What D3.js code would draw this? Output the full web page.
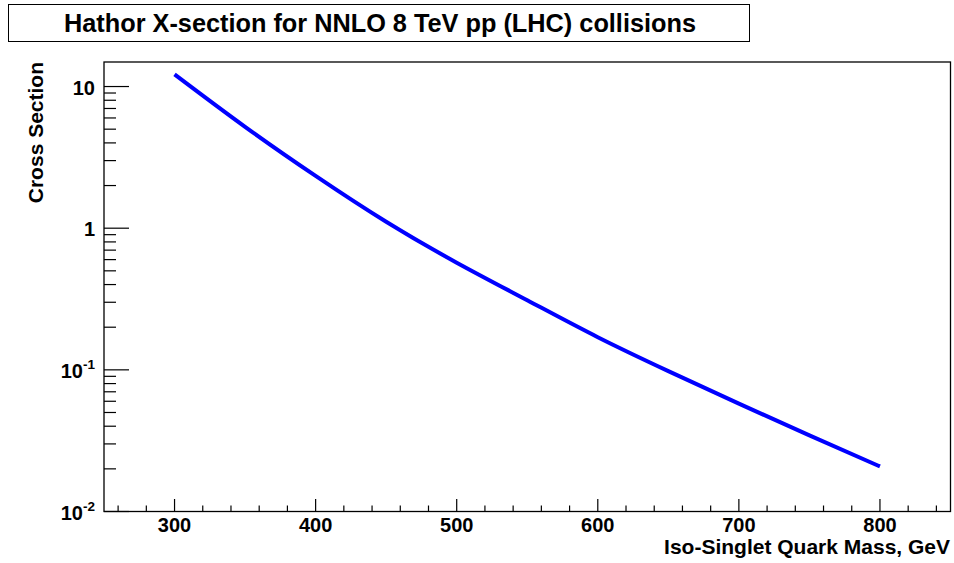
<!DOCTYPE html>
<html>
<head>
<meta charset="utf-8">
<script src="https://cdn.jsdelivr.net/npm/d3@7"></script>
<style>
  html, body { margin: 0; padding: 0; background: #fff; }
  svg { display: block; font-family: "Liberation Sans", Arial, Helvetica, sans-serif; font-weight: bold; }
</style>
</head>
<body>
<svg id="chart" width="954" height="563"></svg>
<script>
// Cross section (pb) vs. iso-singlet quark mass (GeV)
const massGeV = [300, 350, 400, 450, 500, 550, 600, 650, 700, 750, 800];
const crossSection = [12.2, 5.2, 2.34, 1.11, 0.571, 0.31, 0.170, 0.098, 0.0577, 0.0345, 0.0208];
const xTickValues = [300, 400, 500, 600, 700, 800];
const yDecades = [0.01, 0.1, 1, 10];
const yTickLabels = [["10", "-2"], ["10", "-1"], ["1", null], ["10", null]];

const titleText = "Hathor X-section for NNLO 8 TeV pp (LHC) collisions";
const xTitle = "Iso-Singlet Quark Mass, GeV";
const yTitle = "Cross Section";

const svg = d3.select("#chart");
const frame = { left: 104, right: 950.5, top: 62, bottom: 511.5 };

const x = d3.scaleLinear().domain([250, 850]).range([frame.left, frame.right]);
const y = d3.scaleLog().domain([0.01, 14.9]).range([frame.bottom, frame.top]);

// Title box
svg.append("rect")
  .attr("x", 8.5).attr("y", 4.5).attr("width", 741).attr("height", 37)
  .attr("fill", "#fff").attr("stroke", "#000").attr("stroke-width", 1);
svg.append("text")
  .attr("x", 380).attr("y", 32)
  .attr("text-anchor", "middle")
  .attr("font-size", 25.3)
  .text(titleText);

// Plot frame
svg.append("rect")
  .attr("x", frame.left).attr("y", frame.top)
  .attr("width", frame.right - frame.left).attr("height", frame.bottom - frame.top)
  .attr("fill", "none").attr("stroke", "#000").attr("stroke-width", 1.3);

// X axis ticks: majors every 100, minors every 20
const xMinor = d3.range(260, 850, 20);
svg.append("g").selectAll("line").data(xMinor).join("line")
  .attr("x1", d => x(d)).attr("x2", d => x(d))
  .attr("y1", frame.bottom)
  .attr("y2", d => frame.bottom - (d % 100 === 0 ? 12.5 : 6))
  .attr("stroke", "#000").attr("stroke-width", 1.2);

svg.append("g").selectAll("text").data(xTickValues).join("text")
  .attr("x", d => x(d)).attr("y", 532)
  .attr("text-anchor", "middle")
  .attr("font-size", 20)
  .text(d => d);

// Y axis ticks: decades long, 2..9 short
const yMinor = [];
yDecades.forEach(dec => {
  for (let k = 2; k <= 9; k++) {
    const v = dec * k;
    if (v <= y.domain()[1]) yMinor.push(v);
  }
});
svg.append("g").selectAll("line").data(yMinor).join("line")
  .attr("x1", frame.left).attr("x2", frame.left + 12)
  .attr("y1", d => y(d)).attr("y2", d => y(d))
  .attr("stroke", "#000").attr("stroke-width", 1.2);
svg.append("g").selectAll("line").data(yDecades).join("line")
  .attr("x1", frame.left).attr("x2", frame.left + 25)
  .attr("y1", d => y(d)).attr("y2", d => y(d))
  .attr("stroke", "#000").attr("stroke-width", 1.2);

const yLab = svg.append("g").selectAll("text").data(yDecades).join("text")
  .attr("x", 95).attr("y", d => y(d) + 8)
  .attr("text-anchor", "end")
  .attr("font-size", 20);
yLab.each(function (d, i) {
  const [base, sup] = yTickLabels[i];
  const t = d3.select(this);
  t.append("tspan").text(base);
  if (sup) {
    t.append("tspan").attr("font-size", 13.5).attr("dy", -9).text(sup);
  }
});

// Axis titles
svg.append("text")
  .attr("x", 950).attr("y", 554)
  .attr("text-anchor", "end")
  .attr("font-size", 21)
  .text(xTitle);
svg.append("text")
  .attr("transform", "translate(43,62) rotate(-90)")
  .attr("text-anchor", "end")
  .attr("font-size", 21)
  .text(yTitle);

// Cross-section curve
const line = d3.line()
  .x((d, i) => x(massGeV[i]))
  .y(d => y(d))
  .curve(d3.curveNatural);
svg.append("path")
  .datum(crossSection)
  .attr("d", line)
  .attr("fill", "none")
  .attr("stroke", "#0000ff")
  .attr("stroke-width", 4);
</script>
</body>
</html>
